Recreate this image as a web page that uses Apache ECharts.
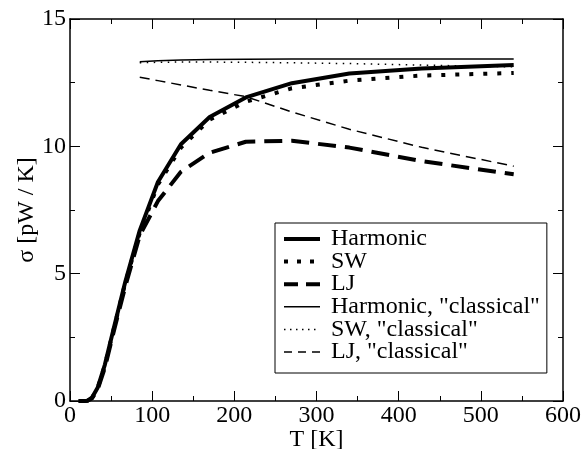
<!DOCTYPE html>
<html>
<head>
<meta charset="utf-8">
<script src="https://cdn.jsdelivr.net/npm/echarts@6/dist/echarts.min.js"></script>
<style>
  html, body { margin: 0; padding: 0; background: #fff; }
  #main { width: 585px; height: 449px; }
</style>
</head>
<body>
<div id="main"></div>
<script>
// temperatures (K) the curves were sampled at
var temps = [10.6, 13.3, 16.8, 21.2, 26.7, 33.6, 42.4, 53.4, 67.3, 84.9, 107, 135, 170, 214, 270, 340, 428, 540];
var tempsClassical = [84.9, 107, 135, 170, 214, 270, 340, 428, 540];

// sigma [pW/K]
var harmonic = [0, 0, 0, 0.01, 0.13, 0.52, 1.42, 2.88, 4.68, 6.7, 8.6, 10.08, 11.15, 11.92, 12.48, 12.86, 13.06, 13.19];
var sw       = [0, 0, 0, 0.01, 0.12, 0.5, 1.4, 2.85, 4.64, 6.6, 8.5, 9.95, 11.05, 11.75, 12.28, 12.58, 12.78, 12.88];
var lj       = [0, 0, 0, 0.01, 0.1, 0.45, 1.3, 2.75, 4.5, 6.5, 7.85, 9.0, 9.75, 10.18, 10.22, 9.95, 9.42, 8.9];
var harmonicCl = [13.32, 13.36, 13.39, 13.41, 13.42, 13.43, 13.43, 13.43, 13.43];
var swCl       = [13.28, 13.3, 13.31, 13.31, 13.3, 13.28, 13.25, 13.19, 13.12];
var ljCl       = [12.71, 12.58, 12.41, 12.2, 11.95, 11.35, 10.67, 9.96, 9.22];

var names = ['Harmonic', 'SW', 'LJ', 'Harmonic, "classical"', 'SW, "classical"', 'LJ, "classical"'];
var widths = [4, 4, 4, 1.5, 1.5, 1.5];
var dashes = ['solid', [4, 10], [18, 9], 'solid', [1.5, 5.5], [10, 6]];
// the legend swatches are short, so their dashes are tighter
var legendDashes = ['solid', [4, 9], [14, 8], 'solid', [1.5, 4.5], [8, 6]];

var font = '"Liberation Serif", "Times New Roman", Times, serif';

function pairs(xs, ys) {
  return xs.map(function (x, i) { return [x, ys[i]]; });
}

function makeAxis(isX, pos, showLabels) {
  return {
    type: 'value',
    position: pos,
    min: 0,
    max: isX ? 600 : 15,
    interval: isX ? 100 : 5,
    name: showLabels ? (isX ? 'T [K]' : 'σ [pW / K]') : '',
    nameLocation: 'middle',
    nameGap: isX ? 27 : 31,
    nameMoveOverlap: false,
    nameTextStyle: { fontFamily: font, fontSize: 24, color: '#000' },
    axisLine: { show: true, onZero: false, lineStyle: { color: '#000', width: 1.5 } },
    axisTick: { show: true, inside: true, length: 10, lineStyle: { color: '#000', width: 1 } },
    minorTick: { show: true, splitNumber: 2, length: 5, lineStyle: { color: '#000', width: 1 } },
    splitLine: { show: false },
    axisLabel: {
      show: showLabels,
      fontFamily: font,
      fontSize: 24,
      color: '#000',
      margin: isX ? 3 : 4
    }
  };
}

function line(i, xs, ys) {
  return {
    name: names[i],
    type: 'line',
    data: pairs(xs, ys),
    symbol: 'none',
    showSymbol: false,
    animation: false,
    lineStyle: { color: '#000', width: widths[i], type: dashes[i], cap: 'butt' },
    itemStyle: { color: '#000' }
  };
}

var legendData = names.map(function (n, i) {
  return { name: n, lineStyle: { color: '#000', width: widths[i], type: legendDashes[i], cap: 'butt' } };
});

var chart = echarts.init(document.getElementById('main'));
chart.setOption({
  backgroundColor: '#fff',
  animation: false,
  grid: { left: 70, right: 22, top: 19, bottom: 48, containLabel: false, outerBoundsMode: 'none' },
  xAxis: [makeAxis(true, 'bottom', true), makeAxis(true, 'top', false)],
  yAxis: [makeAxis(false, 'left', true), makeAxis(false, 'right', false)],
  legend: {
    data: legendData,
    orient: 'vertical',
    left: 275,
    top: 223,
    padding: [4, 7, 9, 7],
    borderColor: '#000',
    borderWidth: 1,
    itemWidth: 36,
    itemHeight: 4,
    itemGap: -1.4,
    itemStyle: { color: 'rgba(0,0,0,0)', borderWidth: 0, opacity: 0 },
    textStyle: { fontFamily: font, fontSize: 24, color: '#000', padding: [0, 0, 0, 6] }
  },
  series: [
    line(0, temps, harmonic),
    line(1, temps, sw),
    line(2, temps, lj),
    line(3, tempsClassical, harmonicCl),
    line(4, tempsClassical, swCl),
    line(5, tempsClassical, ljCl)
  ]
});
</script>
</body>
</html>
